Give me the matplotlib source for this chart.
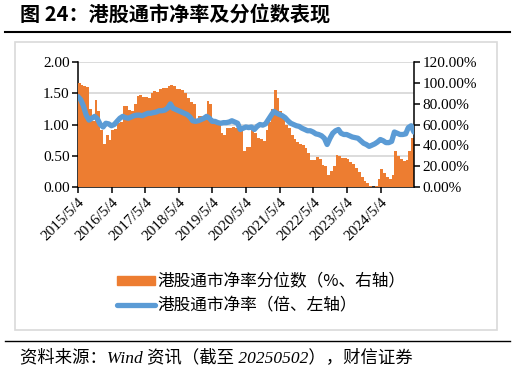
import matplotlib
matplotlib.use('Agg')
import matplotlib.pyplot as plt
from matplotlib.ticker import FuncFormatter
from matplotlib.patches import Rectangle, Patch
from matplotlib.lines import Line2D
import pandas as pd

# monthly values, 2015/5 .. 2025/5
months = pd.date_range('2015-05-01', '2025-05-01', freq='MS')

# percentile of PB (%, right axis)
pct = [100, 98, 97, 96, 75, 63, 84, 73, 55, 41,
       50, 45, 55, 56, 61, 62, 78, 78, 74, 73,
       80, 87, 88, 86, 86, 85, 90, 92, 91, 94,
       95, 95, 97, 98, 97, 94, 94, 93, 90, 85,
       82, 80, 63, 68, 68, 66, 83, 80, 62, 62,
       60, 52, 50, 57, 57, 58, 57, 60, 58, 35,
       38, 38, 55, 52, 47, 46, 44, 55, 62, 75,
       93, 85, 73, 68, 60, 57, 50, 46, 43, 41,
       40, 37, 33, 26, 26, 29, 27, 21, 20, 12,
       15, 20, 31, 30, 28, 28, 27, 24, 22, 18,
       14, 10, 6, 4, 1, 0, 1, 8, 17, 13,
       10, 8, 12, 35, 30, 27, 25, 26, 35, 47,
       31]

# PB (times, left axis)
pb = [1.45, 1.40, 1.30, 1.15, 1.07, 1.10, 1.13, 1.09, 1.00, 0.96,
      1.02, 1.01, 0.98, 1.00, 1.05, 1.10, 1.13, 1.11, 1.10, 1.12,
      1.14, 1.15, 1.15, 1.14, 1.16, 1.18, 1.18, 1.19, 1.20, 1.22,
      1.22, 1.23, 1.26, 1.33, 1.26, 1.24, 1.22, 1.20, 1.18, 1.16,
      1.12, 1.06, 1.05, 1.06, 1.08, 1.10, 1.13, 1.10, 1.05, 1.05,
      1.03, 1.02, 1.03, 1.03, 1.04, 1.06, 1.04, 1.02, 0.92, 0.94,
      0.96, 0.95, 0.96, 0.92, 0.97, 1.00, 0.99, 1.01, 1.08, 1.15,
      1.21, 1.18, 1.16, 1.14, 1.11, 1.06, 1.02, 1.00, 0.98, 0.97,
      0.94, 0.92, 0.90, 0.90, 0.88, 0.85, 0.84, 0.82, 0.78, 0.68,
      0.78, 0.86, 0.90, 0.92, 0.86, 0.84, 0.84, 0.82, 0.80, 0.79,
      0.78, 0.74, 0.70, 0.68, 0.65, 0.67, 0.69, 0.72, 0.76, 0.74,
      0.71, 0.71, 0.73, 0.88, 0.86, 0.84, 0.84, 0.85, 0.95, 0.98,
      0.88]

tick_dates = pd.to_datetime(['%d-05-04' % y for y in range(2015, 2025)])
tick_labels = ['%d/5/4' % y for y in range(2015, 2025)]

orange = '#ED7D31'
blue = '#5B9BD5'
cjk = ['Noto Sans CJK SC', 'DejaVu Sans']
serif = 'Liberation Serif'

fig = plt.figure(figsize=(5.16, 3.74), dpi=100)

# outer chart frame
fig.patches.append(Rectangle((15 / 516, 1 - 330 / 374), 482 / 516, 288 / 374,
                             transform=fig.transFigure, fill=False,
                             edgecolor='#D9D9D9', linewidth=1.2))
# title + rules
fig.text(20 / 516, 1 - 15 / 374, '图 24：港股通市净率及分位数表现', family=cjk,
         fontweight='bold', fontsize=14.5, va='center', ha='left')
fig.add_artist(Line2D([5 / 516, 510 / 516], [1 - 32 / 374, 1 - 32 / 374],
                      transform=fig.transFigure, color='black', linewidth=1.5))
fig.add_artist(Line2D([5 / 516, 510 / 516], [1 - 341 / 374, 1 - 341 / 374],
                      transform=fig.transFigure, color='black', linewidth=1.0))
fig.text(20 / 516, 1 - 358 / 374, '资料来源：Wind 资讯（截至 20250502），财信证券',
         family=[serif, 'Noto Sans CJK SC'], style='italic', fontsize=12.5,
         va='center', ha='left')

rect = [78 / 516, 1 - 187 / 374, 336 / 516, 125 / 374]
ax = fig.add_axes(rect)
ax2 = ax.twinx()
ax3 = ax.twinx()

# left axis: grid
ax.set_ylim(0, 2)
ax.set_yticks([0, 0.5, 1, 1.5, 2])
ax.yaxis.set_major_formatter(FuncFormatter(lambda v, p: '%.2f' % v))
ax.grid(axis='y', color='#D9D9D9', linewidth=1.3)
ax.set_axisbelow(True)

# right axis: percentile columns (one solid step area, no seams)
ax2.fill_between(months, pct, step='post', color=orange, linewidth=0)
ax2.set_ylim(0, 120)
ax2.set_yticks(range(0, 121, 20))
ax2.yaxis.set_major_formatter(FuncFormatter(lambda v, p: '%.2f%%' % v))

# PB line on top
ax3.plot(months, pb, color=blue, linewidth=3.8, solid_capstyle='round')
ax3.set_ylim(0, 2)
ax3.axis('off')

start = pd.Timestamp('2015-05-04')
end = pd.Timestamp('2025-05-02')
for a in (ax, ax2, ax3):
    a.set_xlim(start, end)

ax.set_xticks(tick_dates)
ax.set_xticklabels(tick_labels, rotation=45, ha='right', rotation_mode='anchor')

for a in (ax, ax2):
    a.spines['top'].set_visible(False)
    for s in a.spines.values():
        s.set_linewidth(1.1)
    a.tick_params(axis='both', labelsize=11, length=4, width=1.1, pad=2)
    for lab in a.get_xticklabels() + a.get_yticklabels():
        lab.set_fontfamily(serif)
ax.spines['right'].set_visible(False)
ax2.spines['left'].set_visible(False)
ax2.spines['bottom'].set_visible(False)

handles = [Patch(color=orange, label='港股通市净率分位数（%、右轴）'),
           Line2D([], [], color=blue, linewidth=3.8, solid_capstyle='round',
                  label='港股通市净率（倍、左轴）')]
fig.legend(handles=handles, loc='center left', bbox_to_anchor=(117 / 516, 1 - 294 / 374),
           frameon=False, prop={'family': cjk, 'size': 12}, handlelength=2.3,
           handleheight=0.5, handletextpad=0.15, labelspacing=0.45, borderpad=0,
           borderaxespad=0)

fig.savefig('out.png', dpi=100)
